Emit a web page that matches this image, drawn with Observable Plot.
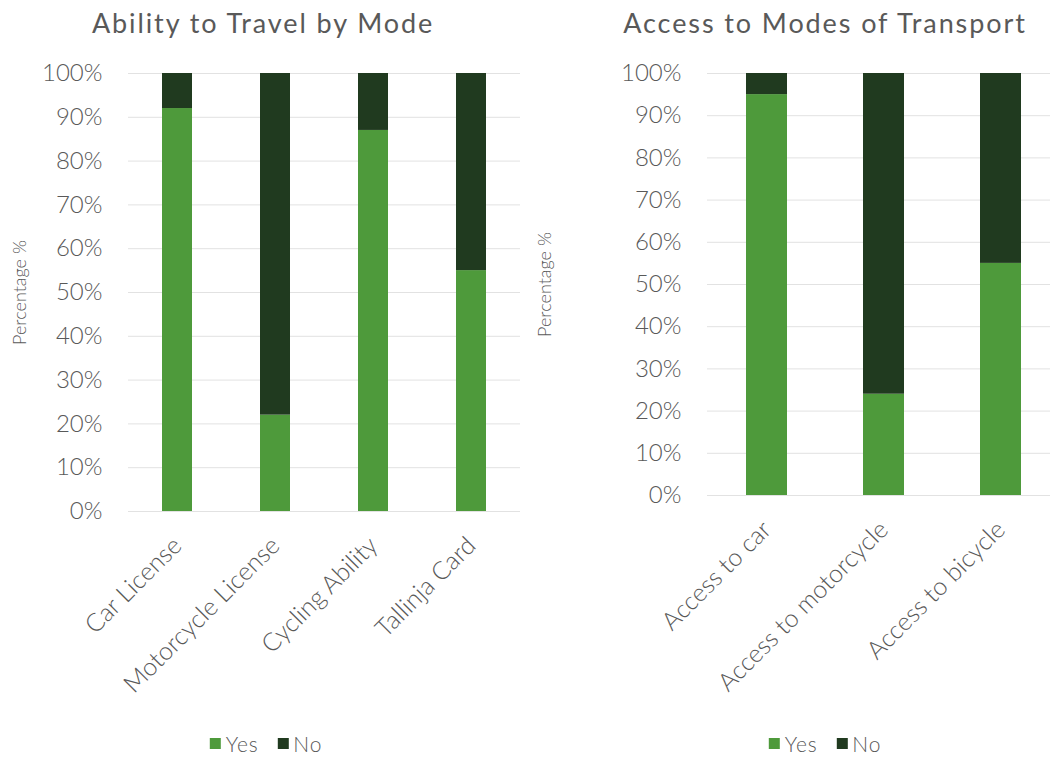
<!DOCTYPE html>
<html>
<head>
<meta charset="utf-8">
<script src="https://cdn.jsdelivr.net/npm/d3@7"></script>
<script src="https://cdn.jsdelivr.net/npm/@observablehq/plot@0.6"></script>
<style>
  html, body { margin: 0; padding: 0; background: #fff; overflow: hidden; }
  #wrap { position: relative; width: 1050px; height: 757px; overflow: hidden; font-family: Lato, sans-serif; color: #595959; }
  #wrap svg { max-width: none !important; }
  .title { position: absolute; top: 6px; font-size: 27px; font-weight: 400; letter-spacing: 1.9px; white-space: nowrap; transform: translateX(-50%); }
  .plot { position: absolute; top: 0; }
  .legend { position: absolute; top: 731px; font-size: 21px; font-weight: 300; letter-spacing: 0.8px; display: flex; align-items: center; transform: translateX(-50%); white-space: nowrap; }
  .sw { display: inline-block; width: 11px; height: 11px; margin-right: 5px; }
  .item { display: flex; align-items: center; margin-right: 19px; }
  .item:last-child { margin-right: 0; }
</style>
</head>
<body>
<div id="wrap">
  <div class="title" style="left:263px">Ability to Travel by Mode</div>
  <div class="title" style="left:825px">Access to Modes of Transport</div>
  <div id="left" class="plot" style="left:0px; width:520px"></div>
  <div id="right" class="plot" style="left:525px; width:534px"></div>
  <div id="legL" class="legend" style="left:266px"></div>
  <div id="legR" class="legend" style="left:825px"></div>
</div>
<script>
// ---- Data ----
const abilityCategories = ["Car License", "Motorcycle License", "Cycling Ability", "Tallinja Card"];
const abilityYes = [92, 22, 87, 55];
const abilityNo = [8, 78, 13, 45];

const accessCategories = ["Access to car", "Access to motorcycle", "Access to bicycle"];
const accessYes = [95, 24, 55];
const accessNo = [5, 76, 45];

const answers = ["Yes", "No"];
const yTicks = [0, 10, 20, 30, 40, 50, 60, 70, 80, 90, 100];

const GREEN = "#4e9a3b";
const DARK = "#203a1f";

function rows(cats, yes, no) {
  return cats.flatMap((c, i) => [
    {cat: c, answer: "Yes", value: yes[i]},
    {cat: c, answer: "No", value: no[i]}
  ]);
}

function chart({cats, yes, no, width, height, marginLeft, marginBottom, pInner, pOuter}) {
  return Plot.plot({
    width, height,
    marginTop: 73, marginBottom, marginLeft, marginRight: 0,
    style: {fontFamily: "Lato, sans-serif", fontWeight: 300, fontSize: "24px", color: "#595959", background: "transparent", overflow: "visible"},
    x: {domain: cats, paddingInner: pInner, paddingOuter: pOuter, label: null},
    y: {domain: [0, 100], label: null},
    color: {domain: answers, range: [GREEN, DARK]},
    marks: [
      Plot.gridY(yTicks, {stroke: "#e2e2e2", strokeOpacity: 1}),
      Plot.barY(rows(cats, yes, no), {x: "cat", y: "value", fill: "answer"}),
      Plot.axisY(yTicks, {tickSize: 0, tickPadding: 26, tickFormat: d => d + "%", label: null, fill: "#595959"}),
      Plot.axisX({tickSize: 0, tickPadding: 30, tickRotate: -45, label: null, fill: "#595959", fontSize: 25, style: {letterSpacing: "0.9px"}}),
      Plot.text(["Percentage %"], {frameAnchor: "left", textAnchor: "middle", dx: -(marginLeft - 20), rotate: -90, fontSize: 18, fill: "#595959", style: {letterSpacing: "1.1px"}})
    ]
  });
}

document.getElementById("left").append(chart({
  cats: abilityCategories, yes: abilityYes, no: abilityNo,
  width: 520, height: 700, marginLeft: 128, marginBottom: 189, pInner: 0.694, pOuter: 0.347
}));
document.getElementById("right").append(chart({
  cats: accessCategories, yes: accessYes, no: accessNo,
  width: 182 + 352, height: 700, marginLeft: 182, marginBottom: 205, pInner: 0.65, pOuter: 0.325
}));

function legend(el) {
  const colors = {Yes: GREEN, No: DARK};
  for (const a of answers) {
    const it = document.createElement("span");
    it.className = "item";
    const sw = document.createElement("span");
    sw.className = "sw";
    sw.style.background = colors[a];
    it.append(sw, document.createTextNode(a));
    el.append(it);
  }
}
legend(document.getElementById("legL"));
legend(document.getElementById("legR"));
</script>
</body>
</html>
